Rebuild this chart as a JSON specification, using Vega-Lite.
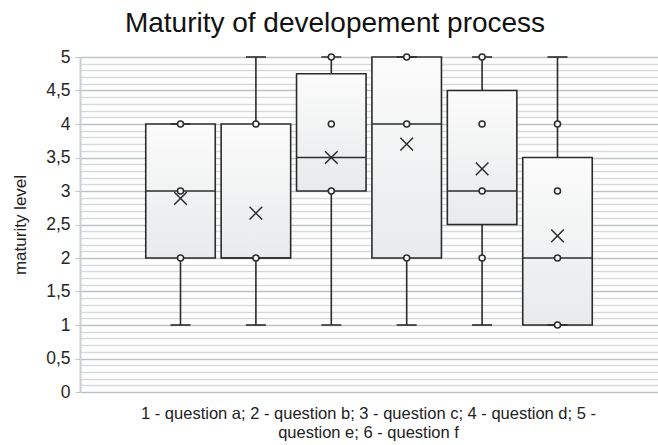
{
  "$schema": "https://vega.github.io/schema/vega-lite/v6.json",
  "width": 578,
  "height": 335,
  "autosize": {"type": "none"},
  "padding": {"left": 80, "top": 57, "right": 0, "bottom": 53},
  "background": "white",
  "config": {
    "font": "Liberation Sans",
    "view": {"stroke": null}
  },
  "title": {
    "text": "Maturity of developement process",
    "fontSize": 28,
    "fontWeight": "normal",
    "color": "#111111",
    "anchor": "middle",
    "frame": "group",
    "dx": -34,
    "offset": 10
  },
  "datasets": {
    "boxes": [
      {"q": "1", "min": 1, "q1": 2, "median": 3, "q3": 4, "max": 4, "mean": 2.89},
      {"q": "2", "min": 1, "q1": 2, "median": 2, "q3": 4, "max": 5, "mean": 2.67},
      {"q": "3", "min": 1, "q1": 3, "median": 3.5, "q3": 4.75, "max": 5, "mean": 3.5},
      {"q": "4", "min": 1, "q1": 2, "median": 4, "q3": 5, "max": 5, "mean": 3.7},
      {"q": "5", "min": 1, "q1": 2.5, "median": 3, "q3": 4.5, "max": 5, "mean": 3.33},
      {"q": "6", "min": 1, "q1": 1, "median": 2, "q3": 3.5, "max": 5, "mean": 2.33}
    ],
    "points": [
      {"q": "1", "value": 2}, {"q": "1", "value": 3}, {"q": "1", "value": 4},
      {"q": "2", "value": 2}, {"q": "2", "value": 4},
      {"q": "3", "value": 3}, {"q": "3", "value": 4}, {"q": "3", "value": 5},
      {"q": "4", "value": 2}, {"q": "4", "value": 4}, {"q": "4", "value": 5},
      {"q": "5", "value": 2}, {"q": "5", "value": 3}, {"q": "5", "value": 4}, {"q": "5", "value": 5},
      {"q": "6", "value": 1}, {"q": "6", "value": 2}, {"q": "6", "value": 3}, {"q": "6", "value": 4}
    ]
  },
  "encoding": {
    "x": {
      "field": "q",
      "type": "nominal",
      "sort": null,
      "scale": {"paddingInner": 0.078, "paddingOuter": 0.872},
      "axis": {
        "labels": false,
        "ticks": false,
        "domain": false,
        "grid": false,
        "title": ["1 - question a; 2 - question b; 3 - question c; 4 - question d; 5 -", "question e; 6 - question f"],
        "titleFontSize": 16.5,
        "titleFontWeight": "normal",
        "titleColor": "#222222",
        "titleLineHeight": 19,
        "titlePadding": 13,
        "titleX": 288
      }
    }
  },
  "layer": [
    {
      "data": {"name": "boxes"},
      "mark": {"type": "rule", "color": "#2b2b2b", "strokeWidth": 1.6},
      "encoding": {
        "y": {
          "field": "min",
          "type": "quantitative",
          "scale": {"domain": [0, 5], "nice": false, "zero": true},
          "axis": {
            "values": [0, 0.1, 0.2, 0.3, 0.4, 0.5, 0.6, 0.7, 0.8, 0.9, 1, 1.1, 1.2, 1.3, 1.4, 1.5, 1.6, 1.7, 1.8, 1.9, 2, 2.1, 2.2, 2.3, 2.4, 2.5, 2.6, 2.7, 2.8, 2.9, 3, 3.1, 3.2, 3.3, 3.4, 3.5, 3.6, 3.7, 3.8, 3.9, 4, 4.1, 4.2, 4.3, 4.4, 4.5, 4.6, 4.7, 4.8, 4.9, 5],
            "tickCount": 200,
            "labelOverlap": false,
            "format": ".1~f",
            "labelExpr": "abs(datum.value*2 - round(datum.value*2)) < 0.001 ? replace(datum.label, '.', ',') : ''",
            "labelFontSize": 17.5,
            "labelColor": "#262626",
            "labelPadding": 5,
            "grid": true,
            "gridColor": {"condition": {"test": "abs(datum.value*2 - round(datum.value*2)) < 0.001", "value": "#bcc3c7"}, "value": "#d9d9d9"},
            "gridWidth": {"condition": {"test": "abs(datum.value*2 - round(datum.value*2)) < 0.001", "value": 1.6}, "value": 1.3},
            "tickSize": 5,
            "tickColor": {"condition": {"test": "abs(datum.value*2 - round(datum.value*2)) < 0.001", "value": "#bcc3c7"}, "value": "transparent"},
            "domainColor": "#c8d0d4",
            "domainWidth": 2,
            "title": "maturity level",
            "titleFontSize": 17,
            "titleFontWeight": "normal",
            "titleColor": "#222222",
            "titlePadding": 16
          }
        },
        "y2": {"field": "max"}
      }
    },
    {
      "data": {"name": "boxes"},
      "mark": {
        "type": "bar",
        "stroke": "#2b2b2b",
        "strokeWidth": 1.6,
        "fill": {
          "gradient": "linear",
          "x1": 0, "y1": 0, "x2": 0, "y2": 1,
          "stops": [
            {"offset": 0, "color": "#fbfbfb"},
            {"offset": 1, "color": "#e8eaeb"}
          ]
        }
      },
      "encoding": {
        "y": {"field": "q1", "type": "quantitative"},
        "y2": {"field": "q3"}
      }
    },
    {
      "data": {"name": "boxes"},
      "mark": {"type": "tick", "color": "#2b2b2b", "size": 69, "thickness": 1.6, "opacity": 1},
      "encoding": {"y": {"field": "median", "type": "quantitative"}}
    },
    {
      "data": {"name": "boxes"},
      "mark": {"type": "tick", "color": "#2b2b2b", "size": 20, "thickness": 1.6, "opacity": 1},
      "encoding": {"y": {"field": "min", "type": "quantitative"}}
    },
    {
      "data": {"name": "boxes"},
      "mark": {"type": "tick", "color": "#2b2b2b", "size": 20, "thickness": 1.6, "opacity": 1},
      "encoding": {"y": {"field": "max", "type": "quantitative"}}
    },
    {
      "data": {"name": "points"},
      "mark": {"type": "point", "shape": "circle", "size": 36, "filled": false, "fill": "#f6f6f6", "fillOpacity": 1, "stroke": "#2b2b2b", "strokeWidth": 1.5, "opacity": 1},
      "encoding": {"y": {"field": "value", "type": "quantitative"}}
    },
    {
      "data": {"name": "boxes"},
      "mark": {"type": "point", "shape": "M-1,-1L1,1M-1,1L1,-1", "size": 160, "filled": false, "stroke": "#2b2b2b", "strokeWidth": 1.5, "opacity": 1},
      "encoding": {"y": {"field": "mean", "type": "quantitative"}}
    }
  ]
}
